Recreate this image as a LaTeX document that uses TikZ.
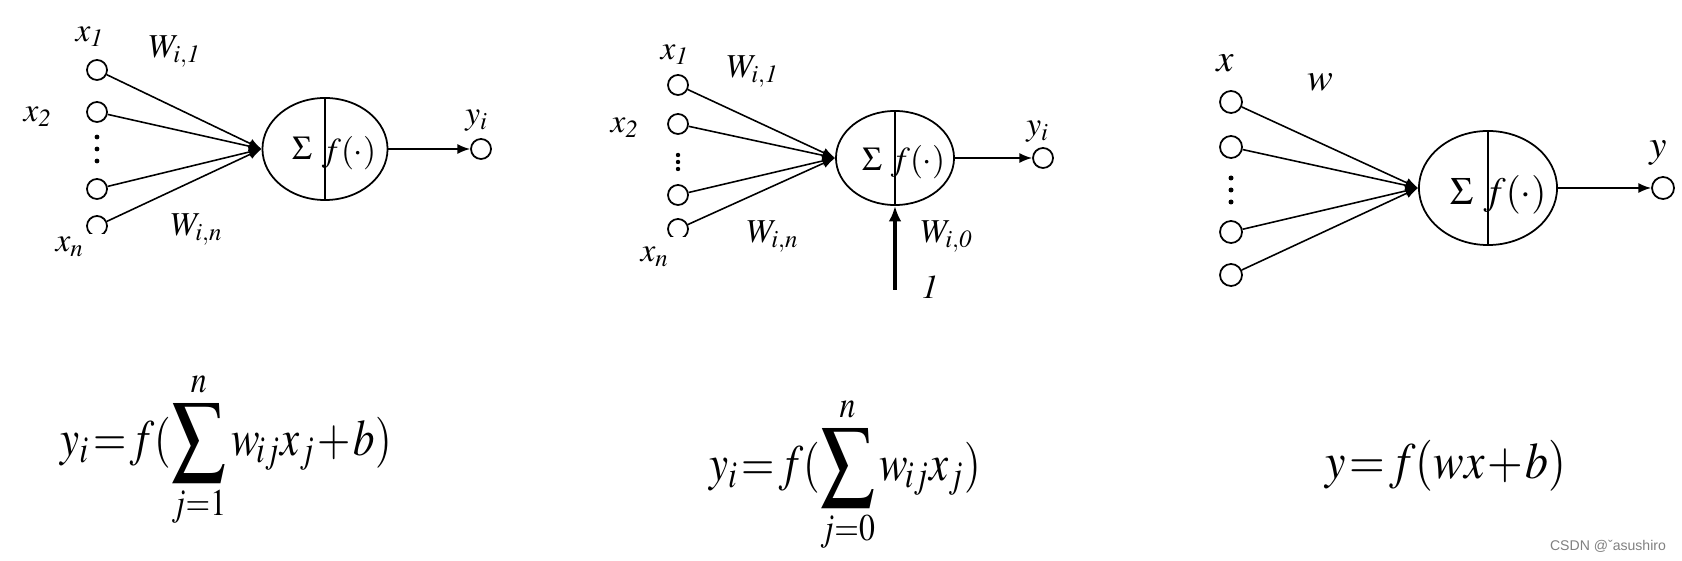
\documentclass[tikz,border=0pt]{standalone}
\usepackage{graphicx}
\usepackage{mathptmx}
\usepackage[no-math]{fontspec}
\setmainfont{Liberation Serif}
\newfontfamily\wmfont{Liberation Sans}
\usetikzlibrary{arrows.meta,shapes.geometric}
\newcommand{\bigsum}{\mathop{\vcenter{\hbox{\scalebox{1.8}{$\sum$}}}}\limits}
\newcommand{\tightmath}{\thickmuskip=1.5mu\relax\medmuskip=1mu\relax}

\begin{document}
\begin{tikzpicture}[x=0.01cm, y=-0.01cm,
    inp/.style={circle, draw, line width=0.5pt, minimum size=0.2cm, inner sep=0pt},
    cell/.style={ellipse, draw, line width=0.5pt, inner sep=0pt},
    wire/.style={line width=0.45pt, -{Latex[length=3.6pt,width=2.8pt]}},
    biasarrow/.style={line width=1.1pt, -{Latex[length=4.4pt,width=3.6pt]}},
    lbl/.style={font=\fontsize{9.5}{11}\selectfont, inner sep=0pt},
    formula/.style={font=\fontsize{14.5}{17}\selectfont, inner sep=0pt}]

    \useasboundingbox (0,0) rectangle (1682,561);

    % First neuron: inputs, weights and the summing cell
    \node[inp] (a1) at (97,70) {};
    \node[inp] (a2) at (97,112) {};
    \node[inp] (a3) at (97,189) {};
    \begin{scope}
        \clip (80,200) rectangle (120,234);
        \node[inp] (a4) at (97,226) {};
    \end{scope}
    \foreach \yy in {137,149,161} \fill (97,\yy) circle (2.4);
    \node[cell, minimum width=1.25cm, minimum height=1.02cm] (n1) at (325,149) {};
    \draw[line width=0.5pt] (n1.north) -- (n1.south);
    \node[lbl] (s1) at (302,148) {$\Sigma$};
    \node[lbl] (f1) at (349,153) {$f(\cdot)$};
    \foreach \i in {1,...,4} \draw[wire] (a\i) -- (n1.west);
    \node[inp] (o1) at (481,149) {};
    \draw[wire] (n1.east) -- (o1.west);

    % Labels of the first neuron
    \node[lbl] at (90,37) {$x_{\mathit{1}}$};
    \node[lbl] at (38,117) {$x_{\mathit{2}}$};
    \node[lbl] at (70,247) {$x_n$};
    \node[lbl] at (175,52) {$W_{i,\mathit{1}}$};
    \node[lbl] at (197,230) {$W_{i,n}$};
    \node[lbl] at (477,121) {$y_i$};

    % Second neuron, with the bias input from below
    \node[inp] (b1) at (678,85) {};
    \node[inp] (b2) at (678,124) {};
    \node[inp] (b3) at (678,195) {};
    \begin{scope}
        \clip (660,210) rectangle (700,237);
        \node[inp] (b4) at (678,229) {};
    \end{scope}
    \foreach \yy in {155,162,169} \fill (678,\yy) circle (2.2);
    \node[cell, minimum width=1.18cm, minimum height=0.94cm] (n2) at (895,158) {};
    \draw[line width=0.5pt] (n2.north) -- (n2.south);
    \node[lbl] (s2) at (872,159) {$\Sigma$};
    \node[lbl] (f2) at (918,162) {$f(\cdot)$};
    \foreach \i in {1,...,4} \draw[wire] (b\i) -- (n2.west);
    \node[inp] (o2) at (1043,158) {};
    \draw[wire] (n2.east) -- (o2.west);
    \coordinate (bias) at (895,290);
    \draw[biasarrow] (bias) -- (n2.south);

    % Labels of the second neuron
    \node[lbl] at (675,55) {$x_{\mathit{1}}$};
    \node[lbl] at (625,128) {$x_{\mathit{2}}$};
    \node[lbl] at (655,257) {$x_n$};
    \node[lbl] at (753,72) {$W_{i,\mathit{1}}$};
    \node[lbl] at (773,237) {$W_{i,n}$};
    \node[lbl] at (1038,132) {$y_i$};
    \node[lbl] at (947,237) {$W_{i,\mathit{0}}$};
    \node[lbl] at (930,287) {$\mathit{1}$};

    % Third neuron, one input written as x
    \node[inp, minimum size=0.22cm] (c1) at (1231,102) {};
    \node[inp, minimum size=0.22cm] (c2) at (1231,147) {};
    \node[inp, minimum size=0.22cm] (c3) at (1231,232) {};
    \node[inp, minimum size=0.22cm] (c4) at (1231,275) {};
    \foreach \yy in {178,190,202} \fill (1231,\yy) circle (2.5);
    \node[cell, minimum width=1.38cm, minimum height=1.14cm] (n3) at (1488,188) {};
    \draw[line width=0.5pt] (n3.north) -- (n3.south);
    \node[lbl, font=\fontsize{11}{13}\selectfont] (s3) at (1462,192) {$\Sigma$};
    \node[lbl, font=\fontsize{11}{13}\selectfont] (f3) at (1515,195) {$f(\cdot)$};
    \foreach \i in {1,...,4} \draw[wire] (c\i) -- (n3.west);
    \node[inp, minimum size=0.22cm] (o3) at (1663,188) {};
    \draw[wire] (n3.east) -- (o3.west);

    % Labels of the third neuron
    \node[lbl, font=\fontsize{11}{13}\selectfont] at (1225,63) {$x$};
    \node[lbl, font=\fontsize{11}{13}\selectfont] at (1320,82) {$w$};
    \node[lbl, font=\fontsize{11}{13}\selectfont] at (1658,153) {$y$};

    % Formulas under the three neurons
    \node[formula] (e1) at (226,450) {\scalebox{0.84}[1]{$\tightmath y_i = f(\bigsum_{j=1}^{n} w_{\!ij}x_j + b)$}};
    \node[formula] (e2) at (845,475) {\scalebox{0.84}[1]{$\tightmath y_i = f(\bigsum_{j=0}^{n} w_{\!ij}x_j)$}};
    \node[formula] (e3) at (1446,466) {\scalebox{0.9}[1]{$\tightmath y = f(wx + b)$}};

    % Watermark
    \node[font=\wmfont\fontsize{4}{5}\selectfont, text=gray, inner sep=0pt] at (1608,546) {CSDN @ˇasushiro};
\end{tikzpicture}
\end{document}
